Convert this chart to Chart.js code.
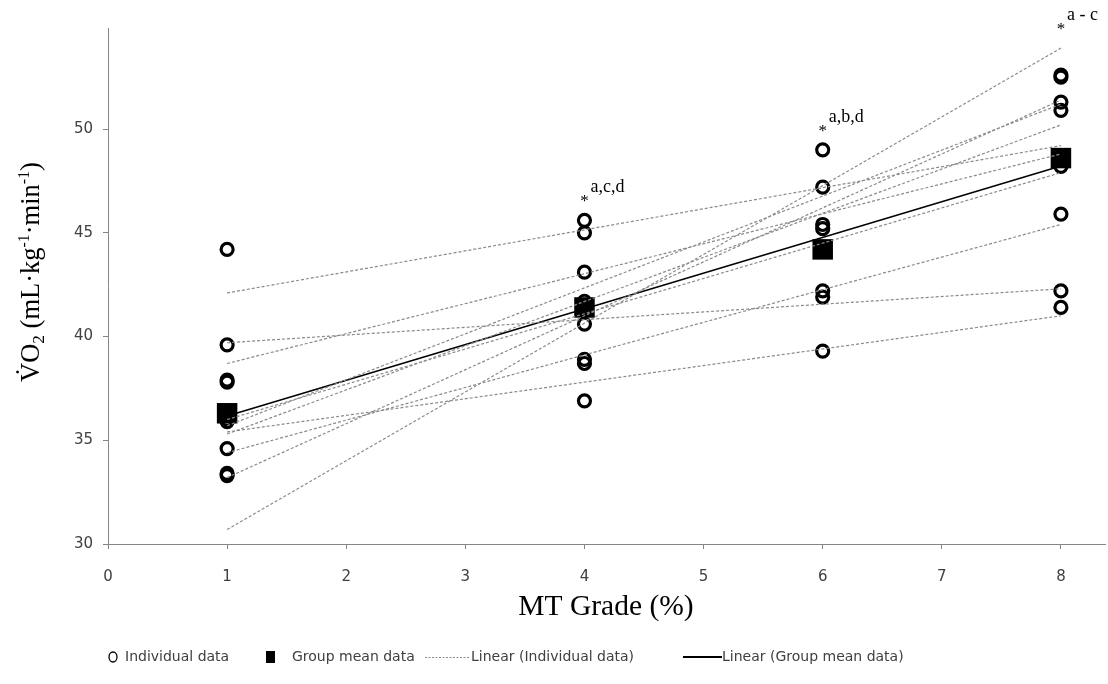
<!DOCTYPE html>
<html>
<head>
<meta charset="utf-8">
<script src="https://cdn.jsdelivr.net/npm/chart.js@4.4.1/dist/chart.umd.min.js"></script>
<style>
  html, body { margin: 0; padding: 0; background: #ffffff; }
  #wrap { width: 1108px; height: 684px; }
</style>
</head>
<body>
<div id="wrap"><canvas id="c" width="1108" height="684"></canvas></div>
<script>
// ---------------- data ----------------
const grades = [1, 4, 6, 8];                 // MT grade (%)
const xTicks = [0, 1, 2, 3, 4, 5, 6, 7, 8];
const yTicks = [30, 35, 40, 45, 50];

// individual VO2 values at each grade
const indivGrade1 = [44.2, 39.6, 37.8, 37.9, 36.0, 35.9, 34.6, 33.3, 33.4];
const indivGrade4 = [45.6, 45.0, 43.1, 41.7, 40.6, 38.9, 38.7, 36.9];
const indivGrade6 = [49.0, 47.2, 45.4, 45.2, 44.3, 42.2, 41.9, 39.3];
const indivGrade8 = [52.6, 52.5, 51.3, 50.9, 48.2, 45.9, 42.2, 41.4];

// group mean VO2 at each grade
const groupMean = [36.3, 41.4, 44.2, 48.6];

// individual linear trendlines: value at grade 1 and at grade 8
const indivTrendAt1 = [42.1, 39.7, 38.7, 36.0, 35.7, 35.3, 35.4, 34.4, 33.2, 30.7];
const indivTrendAt8 = [49.2, 42.3, 48.8, 47.9, 51.2, 50.2, 41.0, 45.4, 51.4, 53.9];

// significance labels per grade
const sigLabels = ['', 'a,c,d', 'a,b,d', 'a - c'];

// ---------------- helpers ----------------
const individualByGrade = [indivGrade1, indivGrade4, indivGrade6, indivGrade8];

function linearFit(xs, ys) {
  const n = xs.length;
  const mx = xs.reduce((a, b) => a + b, 0) / n;
  const my = ys.reduce((a, b) => a + b, 0) / n;
  let sxy = 0, sxx = 0;
  for (let i = 0; i < n; i++) { sxy += (xs[i] - mx) * (ys[i] - my); sxx += (xs[i] - mx) ** 2; }
  const b = sxy / sxx, a = my - b * mx;
  return x => a + b * x;
}
const meanFit = linearFit(grades, groupMean);
const gFirst = grades[0], gLast = grades[grades.length - 1];

const TICK_FONT = "'DejaVu Sans', 'Liberation Sans', sans-serif";
const SERIF = "'Liberation Serif', 'DejaVu Serif', serif";
const AXIS_GREY = '#868686';
const TEXT_GREY = '#404040';

// ---------------- datasets ----------------
const datasets = [];
indivTrendAt1.forEach((v, i) => {
  datasets.push({
    label: 'Linear (Individual data)',
    data: [{ x: gFirst, y: v }, { x: gLast, y: indivTrendAt8[i] }],
    showLine: true, borderColor: '#8a8a8a', borderWidth: 1.2, borderDash: [3, 2],
    pointRadius: 0, order: 0
  });
});
datasets.push({
  label: 'Linear (Group mean data)',
  data: [{ x: gFirst, y: meanFit(gFirst) }, { x: gLast, y: meanFit(gLast) }],
  showLine: true, borderColor: '#000000', borderWidth: 1.5, pointRadius: 0, order: 0
});
datasets.push({
  label: 'Group mean data',
  data: grades.map((g, i) => ({ x: g, y: groupMean[i] })),
  pointStyle: 'rect', pointRadius: 14.5, pointBorderWidth: 0,
  backgroundColor: '#000000', borderColor: '#000000', showLine: false, order: 1
});
datasets.push({
  label: 'Individual data',
  data: grades.flatMap((g, i) => individualByGrade[i].map(v => ({ x: g, y: v }))),
  pointStyle: 'circle', pointRadius: 6, pointBorderWidth: 3.2,
  borderColor: '#000000', backgroundColor: 'rgba(0,0,0,0)', showLine: false, order: 2
});

// ---------------- custom drawing plugin ----------------
function measureRich(ctx, parts, baseSize) {
  let w = 0;
  parts.forEach(p => {
    ctx.font = (baseSize * (p.s || 1)) + 'px ' + SERIF;
    w += ctx.measureText(p.t).width;
  });
  return w;
}

const decorPlugin = {
  id: 'decor',
  afterDraw(chart) {
    const ctx = chart.ctx;
    const xs = chart.scales.x, ys = chart.scales.y;
    const area = chart.chartArea;
    ctx.save();
    ctx.fillStyle = '#000';

    // --- y-axis title (rotated) ---
    const base = 26.5;
    const yParts = [
      { t: 'V\u0307O' }, { t: '2', s: 0.65, dy: 0.18 }, { t: ' (mL\u00B7kg' },
      { t: '-1', s: 0.6, dy: -0.38 }, { t: '\u00B7min' }, { t: '-1', s: 0.6, dy: -0.38 }, { t: ')' }
    ];
    const totalW = measureRich(ctx, yParts, base);
    ctx.save();
    ctx.translate(30, 272);
    ctx.rotate(-Math.PI / 2);
    ctx.textBaseline = 'alphabetic';
    ctx.textAlign = 'left';
    let cx = -totalW / 2;
    const baseY = base * 0.33;
    yParts.forEach(p => {
      ctx.font = (base * (p.s || 1)) + 'px ' + SERIF;
      ctx.fillText(p.t, cx, baseY + (p.dy || 0) * base);
      cx += ctx.measureText(p.t).width;
    });
    ctx.restore();

    // --- x-axis title ---
    ctx.font = '29.5px ' + SERIF;
    ctx.textAlign = 'center';
    ctx.textBaseline = 'middle';
    ctx.fillText('MT Grade (%)', 606, 607);

    // --- significance annotations ---
    grades.forEach((g, i) => {
      const lab = sigLabels[i];
      if (!lab) return;
      const t = (g - gFirst) / (gLast - gFirst);
      const trendVals = indivTrendAt1.map((v, k) => v + (indivTrendAt8[k] - v) * t);
      const top = Math.max(...individualByGrade[i], ...trendVals);
      const px = xs.getPixelForValue(g);
      const py = ys.getPixelForValue(top);
      ctx.textAlign = 'center';
      ctx.textBaseline = 'alphabetic';
      ctx.font = '17px ' + SERIF;
      ctx.fillText('*', px, py - 14);
      ctx.textAlign = 'left';
      ctx.font = '18px ' + SERIF;
      ctx.fillText(lab, px + 6, py - 28);
    });

    // --- legend ---
    const ly = 657;
    ctx.font = '14px ' + TICK_FONT;
    ctx.fillStyle = TEXT_GREY;
    ctx.textAlign = 'left';
    ctx.textBaseline = 'middle';
    ctx.strokeStyle = '#000'; ctx.lineWidth = 1.3;
    ctx.beginPath(); ctx.ellipse(113, ly, 4, 5, 0, 0, Math.PI * 2); ctx.stroke();
    ctx.fillText('Individual data', 125, ly);
    ctx.fillStyle = '#000';
    ctx.fillRect(266, ly - 6, 9, 12);
    ctx.fillStyle = TEXT_GREY;
    ctx.fillText('Group mean data', 292, ly);
    ctx.strokeStyle = '#8a8a8a'; ctx.lineWidth = 1; ctx.setLineDash([2, 1.5]);
    ctx.beginPath(); ctx.moveTo(425, ly + 0.5); ctx.lineTo(470, ly + 0.5); ctx.stroke();
    ctx.setLineDash([]);
    ctx.fillText('Linear (Individual data)', 471, ly);
    ctx.strokeStyle = '#000'; ctx.lineWidth = 2;
    ctx.beginPath(); ctx.moveTo(683, ly); ctx.lineTo(722, ly); ctx.stroke();
    ctx.fillText('Linear (Group mean data)', 722, ly);

    ctx.restore();
  }
};

// ---------------- chart ----------------
new Chart(document.getElementById('c'), {
  type: 'scatter',
  data: { datasets },
  options: {
    responsive: false,
    animation: false,
    events: [],
    layout: { autoPadding: false, padding: { left: 0, right: 3, top: 28, bottom: 0 } },
    plugins: { legend: { display: false }, tooltip: { enabled: false } },
    scales: {
      x: {
        type: 'linear', min: 0, max: 8.37,
        afterBuildTicks: s => { s.ticks = xTicks.map(v => ({ value: v })); },
        afterFit: s => { s.height = 140; s.paddingLeft = 0; s.paddingRight = 0; },
        ticks: { font: { family: TICK_FONT, size: 15 }, color: TEXT_GREY, padding: 19, maxRotation: 0 },
        grid: { drawOnChartArea: false, drawTicks: true, tickLength: 5, color: AXIS_GREY },
        border: { color: AXIS_GREY, width: 1 }
      },
      y: {
        type: 'linear', min: 30, max: 54.87,
        afterBuildTicks: s => { s.ticks = yTicks.map(v => ({ value: v })); },
        afterFit: s => { s.width = 108; s.paddingTop = 0; s.paddingBottom = 0; },
        ticks: { font: { family: TICK_FONT, size: 15 }, color: TEXT_GREY, padding: 10 },
        grid: { drawOnChartArea: false, drawTicks: true, tickLength: 5, color: AXIS_GREY },
        border: { color: AXIS_GREY, width: 1 }
      }
    }
  },
  plugins: [decorPlugin]
});
</script>
</body>
</html>
